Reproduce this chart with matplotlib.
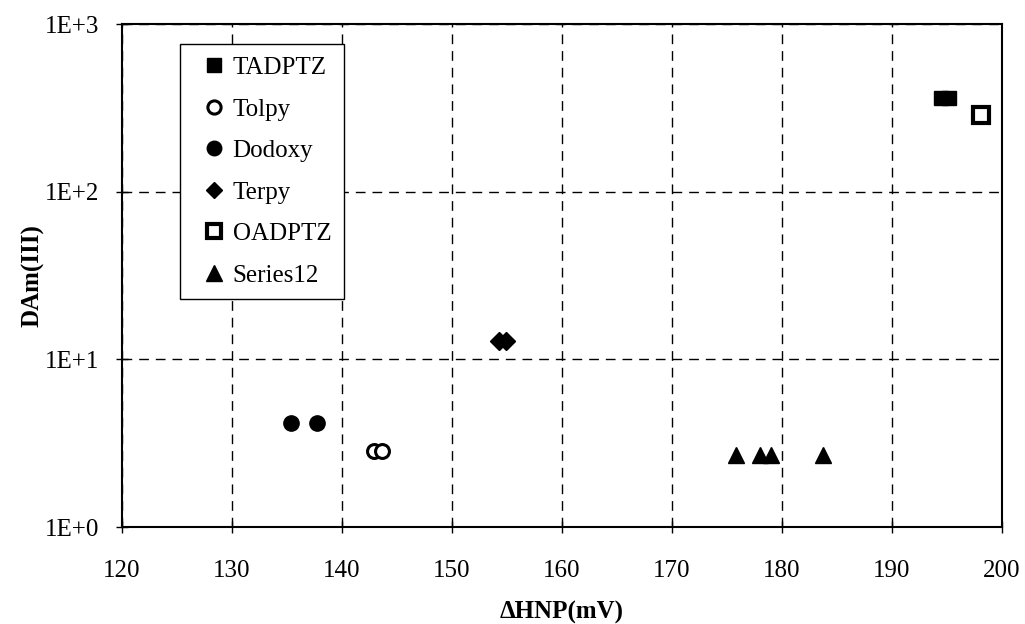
import numpy as np
import matplotlib
matplotlib.use("Agg")
import matplotlib.pyplot as plt
from matplotlib.ticker import FixedLocator, NullLocator

plt.rcParams['font.family'] = ['Liberation Serif', 'DejaVu Serif']

# data: dHNP (mV) vs DAm(III)
tadptz_x = [194.5, 195.2]
tadptz_y = [361, 361]
tolpy_x = [142.9, 143.6]
tolpy_y = [2.84, 2.84]
dodoxy_x = [135.4, 137.7]
dodoxy_y = [4.2, 4.2]
terpy_x = [154.3, 154.9]
terpy_y = [12.8, 12.8]
oadptz_x = [198.1]
oadptz_y = [286]
series12_x = [175.8, 178.0, 179.0, 183.7]
series12_y = [2.69, 2.69, 2.69, 2.69]

x_ticks = [120, 130, 140, 150, 160, 170, 180, 190, 200]
y_ticks = [1, 10, 100, 1000]
y_tick_labels = ["1E+0", "1E+1", "1E+2", "1E+3"]

fig = plt.figure(figsize=(10.25, 6.24), dpi=100)
ax = fig.add_axes([0.119, 0.1554, 0.8585, 0.8061])

# series styles (Excel-like black markers)
ax.plot(tadptz_x, tadptz_y, 's', color='black', ms=10, label="TADPTZ", zorder=3)
ax.plot(tolpy_x, tolpy_y, 'o', mfc='white', mec='black', mew=2.2, ms=10, label="Tolpy", zorder=3)
ax.plot(dodoxy_x, dodoxy_y, 'o', color='black', ms=11, label="Dodoxy", zorder=3)
ax.plot(terpy_x, terpy_y, 'D', color='black', ms=9, label="Terpy", zorder=3)
ax.plot(oadptz_x, oadptz_y, 's', mfc='white', mec='black', mew=3, ms=11, label="OADPTZ", zorder=3)
ax.plot(series12_x, series12_y, '^', color='black', ms=12, label="Series12", zorder=3)

ax.set_yscale('log')
ax.set_xlim(120, 200)
ax.set_ylim(1, 1000)
ax.xaxis.set_major_locator(FixedLocator(x_ticks))
ax.yaxis.set_major_locator(FixedLocator(y_ticks))
ax.yaxis.set_minor_locator(NullLocator())
ax.set_yticklabels(y_tick_labels)

ax.grid(True, which='major', color='black', linestyle=(0, (7, 5)), linewidth=1.0)
ax.set_axisbelow(True)

for s in ax.spines.values():
    s.set_linewidth(1.5)
    s.set_color('black')

ax.tick_params(axis='both', direction='inout', length=9, width=1, labelsize=18, colors='black')
ax.tick_params(axis='x', pad=19)
ax.tick_params(axis='y', pad=12)

ax.set_xlabel("ΔHNP(mV)", fontsize=18, fontweight='bold', labelpad=14)
ax.set_ylabel("DAm(III)", fontsize=18, fontweight='bold', labelpad=0)

leg = ax.legend(loc='upper left', bbox_to_anchor=(0.066, 0.96), borderaxespad=0,
                fontsize=18, frameon=True, fancybox=False, edgecolor='black',
                framealpha=1, handlelength=1.7, handletextpad=-0.1,
                labelspacing=0.76, borderpad=0.5, markerscale=0.95)
leg.get_frame().set_linewidth(1.0)

fig.savefig("out.png", dpi=100)
